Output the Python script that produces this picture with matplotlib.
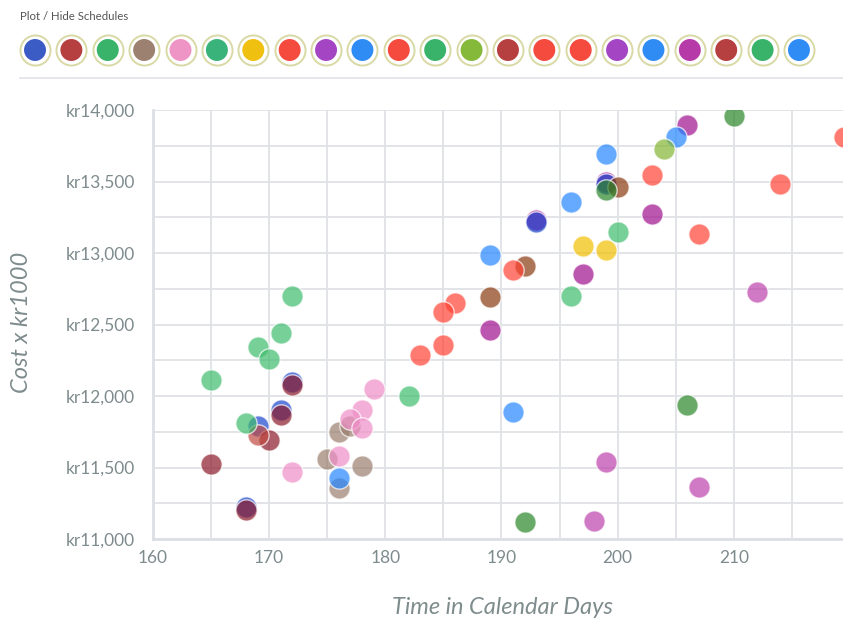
import numpy as np
import matplotlib.pyplot as plt

plt.rcParams['font.family'] = ['Lato', 'DejaVu Sans']

# schedule points (day, cost in kr)
light_green_days = [165, 169, 170, 171, 172, 168, 182, 196, 200]
light_green_cost = [12110, 12340, 12260, 12440, 12700, 11810, 12000, 12700, 13150]
dark_green_days = [199, 210, 206, 192]
dark_green_cost = [13440, 13960, 11935, 11120]
light_blue_days = [189, 191, 196, 199, 205, 176]
light_blue_cost = [12985, 11885, 13360, 13695, 13810, 11430]
dark_blue_days = [193, 199, 168, 172, 171, 169]
dark_blue_cost = [13220, 13485, 11225, 12095, 11900, 11790]
dark_red_days = [165, 168, 172, 171, 170]
dark_red_cost = [11525, 11203, 12077, 11868, 11690]
brick_days = [169]
brick_cost = [11725]
grey_brown_days = [176, 177, 175, 176, 178]
grey_brown_cost = [11750, 11790, 11560, 11355, 11510]
pink_days = [179, 178, 177, 178, 176, 172]
pink_cost = [12050, 11905, 11840, 11775, 11580, 11470]
salmon_days = [186, 185, 185, 183, 191, 203, 214, 207, 219.5]
salmon_cost = [12650, 12590, 12360, 12290, 12880, 13545, 13480, 13130, 13810]
brown_days = [189, 192, 200]
brown_cost = [12695, 12910, 13465]
yellow_days = [197, 199]
yellow_cost = [13050, 13020]
magenta_days = [203, 206, 197, 189, 199, 193]
magenta_cost = [13275, 13895, 12850, 12465, 13500, 13232]
orchid_days = [199, 207, 198, 212]
orchid_cost = [11540, 11365, 11125, 12730]
yellow_green_days = [204]
yellow_green_cost = [13730]

legend_colors = ['#3b5cc4', '#b5403f', '#3ab36a', '#9c8070', '#ee95c5', '#3ab37a',
                 '#f0c010', '#f54a3e', '#a445c4', '#2f8cf5', '#f54a3e', '#3ab36a',
                 '#85b93a', '#b5403f', '#f54a3e', '#f54a3e', '#a445c4', '#2f8cf5',
                 '#b63aa8', '#b5403f', '#3ab36a', '#2f8cf5']

series = [
    (magenta_days, magenta_cost, '#a0108f'),
    (orchid_days, orchid_cost, '#bc41ab'),
    (dark_blue_days, dark_blue_cost, '#1a44cc'),
    (grey_brown_days, grey_brown_cost, '#9a7e6c'),
    (pink_days, pink_cost, '#ef8ec7'),
    (light_blue_days, light_blue_cost, '#2486ff'),
    (yellow_days, yellow_cost, '#f1bf00'),
    (yellow_green_days, yellow_green_cost, '#83b633'),
    (brown_days, brown_cost, '#8b3a10'),
    (salmon_days, salmon_cost, '#ff4233'),
    (dark_red_days, dark_red_cost, '#8b1a2a'),
    (brick_days, brick_cost, '#c04a40'),
    (light_green_days, light_green_cost, '#3ebc6c'),
    (dark_green_days, dark_green_cost, '#2a862a'),
]

W, H = 843, 618
fig = plt.figure(figsize=(W / 100, H / 100), dpi=100)

# legend strip
lax = fig.add_axes([0, 0, 1, 1])
lax.set_xlim(0, W)
lax.set_ylim(H, 0)
lax.axis('off')
lax.text(20, 17, 'Plot / Hide Schedules', fontsize=8.2, color='#555555',
         va='center', ha='left')
lx = 35 + np.arange(len(legend_colors)) * 36.38
lax.scatter(lx, np.full(len(lx), 50), s=470, facecolor='white',
            edgecolor='#d9d9a6', linewidth=1.4)
lax.scatter(lx, np.full(len(lx), 50), s=250, c=legend_colors, edgecolor='none')
lax.plot([20, W], [78, 78], color='#e1e2ea', linewidth=1.2)

# main chart
ax = fig.add_axes([153 / W, 79 / H, (W - 153) / W, 429 / H])
for d, c, col in series:
    ax.scatter(d, c, s=235, color=col, alpha=0.7, edgecolor='white',
               linewidth=1.0, zorder=3)

ax.set_xlim(160, 219.4)
ax.set_ylim(11000, 14000)
ax.set_xticks(np.arange(160, 220, 10))
ax.set_xticks(np.arange(165, 220, 10), minor=True)
ax.set_yticks(np.arange(11000, 14001, 500))
ax.set_yticks(np.arange(11250, 14000, 500), minor=True)
ax.set_yticklabels(['kr{:,}'.format(v) for v in range(11000, 14001, 500)])
ax.grid(True, which='both', color='#dfe2e6', linewidth=1.3, zorder=0)
ax.set_axisbelow(True)
ax.tick_params(which='both', length=0)
ax.tick_params(axis='y', pad=13, labelsize=12.5, labelcolor='#7e8b8d')
ax.tick_params(axis='x', pad=8, labelsize=12.5, labelcolor='#7e8b8d')
for side in ['top', 'right']:
    ax.spines[side].set_visible(False)
for side in ['left', 'bottom']:
    ax.spines[side].set_color('#dcdfe3')
    ax.spines[side].set_linewidth(2)

fig.text(503 / W, 1 - 607 / H, 'Time in Calendar Days', fontsize=17,
         style='italic', color='#7f8c8d', ha='center', va='center')
fig.text(22 / W, 1 - 322 / H, 'Cost x kr1000', fontsize=17, style='italic',
         color='#7f8c8d', ha='center', va='center', rotation=90)

fig.savefig('out.png', dpi=100)
